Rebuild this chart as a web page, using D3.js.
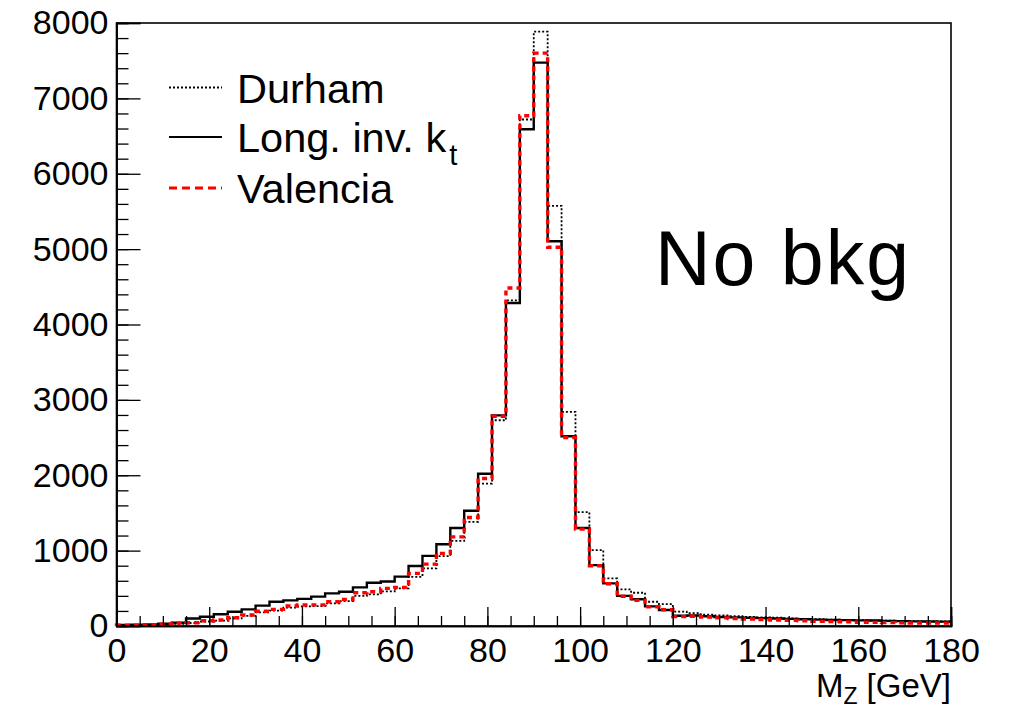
<!DOCTYPE html>
<html>
<head>
<meta charset="utf-8">
<script src="https://cdn.jsdelivr.net/npm/d3@7"></script>
<style>
  html, body { margin: 0; padding: 0; background: #fff; }
  svg text { font-family: "Liberation Sans", Arial, Helvetica, sans-serif; }
</style>
</head>
<body>
<svg id="chart" width="1013" height="708"></svg>
<script>
// ---- data: M_Z histograms, 60 bins of 3 GeV from 0 to 180 ----
const binEdgesMin = 0, binEdgesMax = 180, binWidth = 3;
const durham = [8, 8, 12, 20, 30, 40, 60, 72, 100, 135,
  180, 205, 245, 260, 265, 300, 330, 400, 420, 460,
  500, 653, 764, 927, 1130, 1381, 1890, 2730, 4320, 6720,
  7885, 5575, 2840, 1510, 1007, 631, 486, 441, 322, 291,
  190, 170, 150, 140, 130, 120, 115, 110, 100, 95,
  90, 85, 80, 78, 75, 70, 68, 65, 62, 60];
const longInvKt = [15, 18, 22, 30, 45, 100, 123, 155, 190, 221,
  270, 322, 340, 360, 390, 433, 455, 512, 574, 590,
  655, 797, 930, 1085, 1300, 1530, 2020, 2795, 4285, 6590,
  7474, 5105, 2518, 1300, 808, 565, 400, 355, 260, 212,
  135, 140, 130, 120, 115, 110, 105, 100, 95, 90,
  85, 80, 78, 75, 72, 68, 65, 62, 60, 58];
const valencia = [10, 10, 15, 25, 38, 44, 70, 80, 110, 146,
  195, 221, 265, 278, 280, 322, 353, 441, 455, 499,
  512, 698, 821, 963, 1183, 1440, 1956, 2782, 4485, 6770,
  7600, 5025, 2500, 1285, 800, 560, 395, 340, 256, 215,
  125, 130, 120, 108, 100, 92, 85, 80, 75, 70,
  62, 58, 55, 50, 48, 45, 42, 40, 40, 38];
const xTicks = [0, 20, 40, 60, 80, 100, 120, 140, 160, 180];
const yTicks = [0, 1000, 2000, 3000, 4000, 5000, 6000, 7000, 8000];
const legendLabels = ["Durham", "Long. inv. k", "Valencia"];

// ---- layout ----
const svg = d3.select("#chart");
const x = d3.scaleLinear().domain([binEdgesMin, binEdgesMax]).range([116.5, 951]);
const y = d3.scaleLinear().domain([0, 8000]).range([626, 23]);

// frame
svg.append("rect")
  .attr("x", x(0)).attr("y", y(8000))
  .attr("width", x(180) - x(0)).attr("height", y(0) - y(8000))
  .attr("fill", "none").attr("stroke", "#000").attr("stroke-width", 1.6);

// histogram step path
function stepLine(vals) {
  const pts = [[x(binEdgesMin), y(0)]];
  vals.forEach((v, i) => {
    const x0 = binEdgesMin + i * binWidth, x1 = x0 + binWidth;
    pts.push([x(x0), y(v)]);
    pts.push([x(x1), y(v)]);
  });
  pts.push([x(binEdgesMax), y(0)]);
  return d3.line()(pts);
}

const series = [
  { vals: durham, color: "#000", width: 1.8, dash: "2,2" },
  { vals: longInvKt, color: "#000", width: 2.4, dash: null },
  { vals: valencia, color: "#ff0000", width: 3.4, dash: "5,4" }
];
series.forEach(s => {
  svg.append("path")
    .attr("d", stepLine(s.vals))
    .attr("fill", "none")
    .attr("stroke", s.color)
    .attr("stroke-width", s.width)
    .attr("stroke-dasharray", s.dash);
});

// axes
const xMinor = svg.append("g").attr("transform", `translate(0,${y(0)})`)
  .call(d3.axisBottom(x).tickValues(d3.range(0, 181, 5)).tickSize(-10).tickFormat(""));
const xAxis = svg.append("g").attr("transform", `translate(0,${y(0)})`)
  .call(d3.axisBottom(x).tickValues(xTicks).tickSize(-19).tickPadding(12).tickFormat(d3.format("d")));
const yMinor = svg.append("g").attr("transform", `translate(${x(0)},0)`)
  .call(d3.axisLeft(y).tickValues(d3.range(0, 8001, 200)).tickSize(-12).tickFormat(""));
const yAxis = svg.append("g").attr("transform", `translate(${x(0)},0)`)
  .call(d3.axisLeft(y).tickValues(yTicks).tickSize(-24).tickPadding(8).tickFormat(d3.format("d")));

[xMinor, xAxis, yMinor, yAxis].forEach(g => {
  g.select(".domain").attr("stroke", "#000").attr("stroke-width", 1.6);
  g.selectAll(".tick line").attr("stroke", "#000").attr("stroke-width", 1.3);
  g.selectAll("text").attr("font-size", 34).attr("fill", "#000")
    .attr("font-family", "Liberation Sans, Arial, sans-serif");
});

// x axis title M_Z [GeV]
const xt = svg.append("text")
  .attr("x", 951).attr("y", 697)
  .attr("text-anchor", "end")
  .attr("font-size", 33);
xt.append("tspan").text("M");
xt.append("tspan").attr("font-size", 23).attr("dy", 7).text("Z");
xt.append("tspan").attr("dy", -7).text(" [GeV]");

// legend
const legendY = [87.5, 137, 188];
const legend = svg.append("g");
series.forEach((s, i) => {
  legend.append("line")
    .attr("x1", 169).attr("x2", 222)
    .attr("y1", legendY[i]).attr("y2", legendY[i])
    .attr("stroke", s.color)
    .attr("stroke-width", i === 0 ? 2 : (i === 1 ? 2.2 : 3.2))
    .attr("stroke-dasharray", i === 2 ? "8,5" : s.dash);
  const t = legend.append("text")
    .attr("x", 237).attr("y", legendY[i] + 15)
    .attr("font-size", 41.5)
    .text(legendLabels[i]);
  if (i === 1) {
    t.append("tspan").attr("font-size", 29).attr("dx", 3).attr("dy", 13).text("t");
  }
});

// annotation
svg.append("text")
  .attr("x", 655).attr("y", 285)
  .attr("font-family", "Lato, 'Open Sans', sans-serif")
  .attr("font-size", 77)
  .attr("letter-spacing", 2)
  .attr("fill", "#000")
  .text("No bkg");
</script>
</body>
</html>
